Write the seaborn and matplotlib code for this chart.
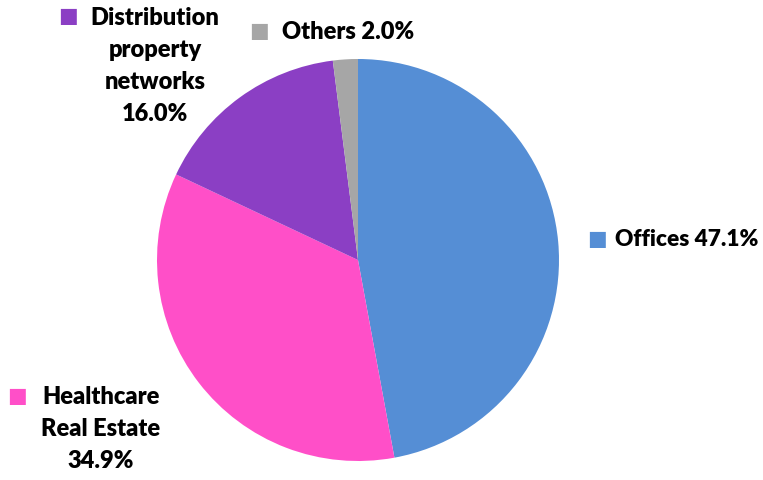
import matplotlib
matplotlib.use("Agg")
import matplotlib.pyplot as plt
import seaborn as sns

sns.set_theme(style="white")
plt.rcParams["font.family"] = ["Lato", "DejaVu Sans"]

categories = ["Offices", "Healthcare\nReal Estate", "Distribution\nproperty\nnetworks", "Others"]
shares = [47.1, 34.9, 16.0, 2.0]
colors = ["#558ED5", "#FF4FC8", "#8B3FC4", "#A6A6A6"]

W, H = 763, 480
fig = plt.figure(figsize=(W / 100, H / 100), dpi=100)
fig.patch.set_facecolor("white")

# pie centred at (358, 260) px with radius 201 px
cx, cy, r = 358, 260, 201
ax = fig.add_axes([(cx - r) / W, (H - cy - r) / H, 2 * r / W, 2 * r / H])
ax.pie(shares, colors=colors, startangle=90, counterclock=False,
       radius=1, wedgeprops=dict(linewidth=0))
ax.set_xlim(-1, 1)
ax.set_ylim(-1, 1)
ax.set_aspect("equal")
ax.axis("off")

fs = 17
line_h = 32


def fx(x):
    return x / W


def fy(y):
    return 1 - y / H


def square(x, y, color):
    fig.text(fx(x), fy(y), "■", color=color, fontsize=15, ha="center",
             va="center", family="DejaVu Sans")


def label_lines(lines, x, y0, ha="center", size=fs):
    for i, t in enumerate(lines):
        fig.text(fx(x), fy(y0 + i * line_h), t, fontsize=size, fontweight="heavy",
                 color="black", ha=ha, va="center")


def pct(v):
    return f"{v:.1f}%"


# Offices
square(597, 239, colors[0])
label_lines([f"{categories[0]} {pct(shares[0])}"], 615, 240, ha="left", size=16.3)

# Healthcare Real Estate
square(17, 396, colors[1])
label_lines(categories[1].split("\n") + [pct(shares[1])], 101, 397)

# Distribution property networks
square(68, 16, colors[2])
label_lines(categories[2].split("\n") + [pct(shares[2])], 155, 18)

# Others
square(259, 31, colors[3])
label_lines([f"{categories[3]} {pct(shares[3])}"], 282, 32, ha="left")

fig.savefig("out.png", dpi=100, facecolor="white")
